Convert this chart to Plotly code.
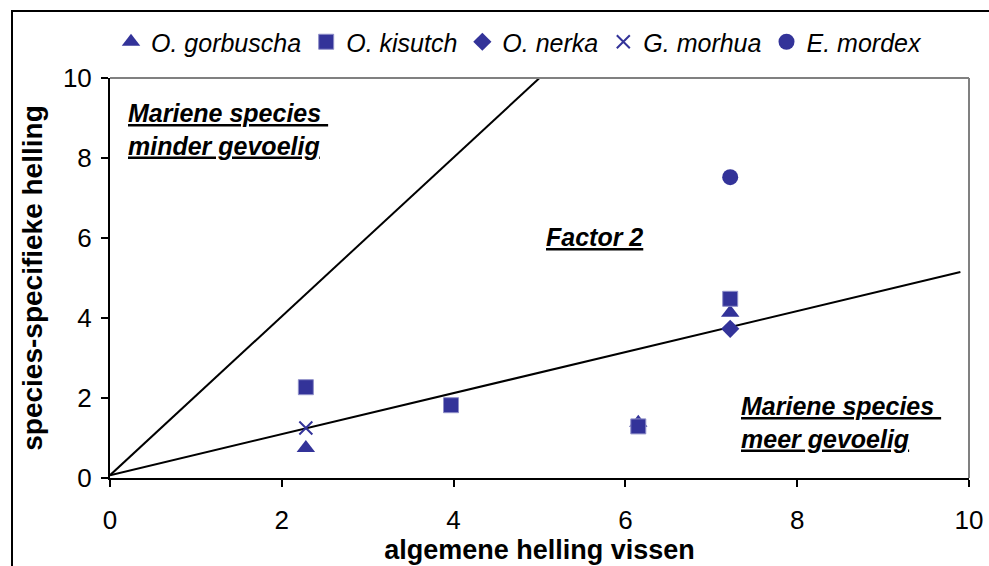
import plotly.graph_objects as go

# ---- data ----
gorbuscha_x = [2.28, 6.15, 7.22]
gorbuscha_y = [0.75, 1.38, 4.13]
kisutch_x = [2.28, 3.97, 6.15, 7.22]
kisutch_y = [2.27, 1.82, 1.29, 4.48]
nerka_x = [7.22]
nerka_y = [3.73]
morhua_x = [2.28]
morhua_y = [1.25]
mordex_x = [7.22]
mordex_y = [7.52]

# reference lines (factor 2 above / below)
steep_x = [0.0, 5.0]
steep_y = [0.07, 10.0]
shallow_x = [0.0, 9.9]
shallow_y = [0.07, 5.15]

tick_vals = [0, 2, 4, 6, 8, 10]
tick_text = ["0", "2", "4", "6", "8", "10"]

BLUE = "#333399"
FONT = "Liberation Sans, Arial, sans-serif"

fig = go.Figure()

fig.add_trace(go.Scatter(x=steep_x, y=steep_y, mode="lines",
                         line=dict(color="black", width=2), showlegend=False, hoverinfo="skip"))
fig.add_trace(go.Scatter(x=shallow_x, y=shallow_y, mode="lines",
                         line=dict(color="black", width=2), showlegend=False, hoverinfo="skip"))

fig.add_trace(go.Scatter(x=gorbuscha_x, y=gorbuscha_y, mode="markers", name="O. gorbuscha",
                         marker=dict(symbol="triangle-up", size=16, color=BLUE)))
fig.add_trace(go.Scatter(x=kisutch_x, y=kisutch_y, mode="markers", name="O. kisutch",
                         marker=dict(symbol="square", size=15, color=BLUE,
                                     line=dict(color="#8f8fc8", width=1))))
fig.add_trace(go.Scatter(x=nerka_x, y=nerka_y, mode="markers", name="O. nerka",
                         marker=dict(symbol="diamond", size=14, color=BLUE)))
fig.add_trace(go.Scatter(x=morhua_x, y=morhua_y, mode="markers", name="G. morhua",
                         marker=dict(symbol="x-thin-open", size=13, color=BLUE,
                                     line=dict(color=BLUE, width=2))))
fig.add_trace(go.Scatter(x=mordex_x, y=mordex_y, mode="markers", name="E. mordex",
                         marker=dict(symbol="circle", size=16, color=BLUE)))

# plot-area geometry: left 110, right 969, top 78, bottom 478 (pixels)
L, R, T, B = 110, 969, 78, 478
W, H = 989, 566
def px(xp):
    return (xp - L) / (R - L)
def py(yp):
    return (B - yp) / (B - T)

shapes = [
    # outer chart border
    dict(type="rect", xref="paper", yref="paper", x0=px(12), x1=px(1000), y0=py(580), y1=py(11),
         line=dict(color="black", width=2), fillcolor="rgba(0,0,0,0)", layer="below"),
    # grey top/right plot border
    dict(type="line", xref="paper", yref="paper", x0=0, x1=1, y0=1, y1=1,
         line=dict(color="#808080", width=2)),
    dict(type="line", xref="paper", yref="paper", x0=1, x1=1, y0=0, y1=1,
         line=dict(color="#808080", width=2)),
]

ann_font = dict(family=FONT, size=25, color="black")
annotations = [
    dict(text="<b><i><u>Mariene species\u00a0</u></i></b><br><b><i><u>minder gevoelig</u></i></b>",
         xref="paper", yref="paper", x=px(126), y=py(97), xanchor="left", yanchor="top",
         align="left", showarrow=False, font=ann_font),
    dict(text="<b><i><u>Factor 2</u></i></b>",
         xref="paper", yref="paper", x=px(544), y=py(221), xanchor="left", yanchor="top",
         align="left", showarrow=False, font=ann_font),
    dict(text="<b><i><u>Mariene species\u00a0</u></i></b><br><b><i><u>meer gevoelig</u></i></b>",
         xref="paper", yref="paper", x=px(739), y=py(390), xanchor="left", yanchor="top",
         align="left", showarrow=False, font=ann_font),
]

fig.update_layout(
    width=W, height=H,
    margin=dict(l=L, r=W - R, t=T, b=H - B, pad=0, autoexpand=False),
    paper_bgcolor="white", plot_bgcolor="white",
    font=dict(family=FONT, color="black"),
    showlegend=True,
    legend=dict(orientation="h", x=px(519), xanchor="center", y=py(42), yanchor="middle",
                font=dict(family=FONT, size=25, style="italic", color="black"),
                bgcolor="rgba(0,0,0,0)", itemclick=False, itemdoubleclick=False),
    shapes=shapes,
    annotations=annotations,
    xaxis=dict(range=[0, 10], tickvals=tick_vals, ticktext=tick_text, automargin=False,
               showgrid=False, zeroline=False, showline=True, linecolor="black", linewidth=2,
               ticks="outside", ticklen=7, tickwidth=2, tickcolor="black",
               tickfont=dict(family=FONT, size=26, color="black"), ticklabelstandoff=11,
               title=dict(text="<b>algemene helling vissen</b>",
                          font=dict(family=FONT, size=27, color="black"), standoff=5)),
    yaxis=dict(range=[0, 10], tickvals=tick_vals, ticktext=tick_text, automargin=False,
               showgrid=False, zeroline=False, showline=True, linecolor="black", linewidth=2,
               ticks="outside", ticklen=7, tickwidth=2, tickcolor="black",
               tickfont=dict(family=FONT, size=26, color="black"), ticklabelstandoff=4,
               title=dict(text="<b>species-specifieke helling</b>",
                          font=dict(family=FONT, size=28, color="black"), standoff=12)),
)

fig.write_html("out.html", config={"displayModeBar": False},
               post_script="document.body.style.margin='0';document.body.style.overflow='hidden';")
